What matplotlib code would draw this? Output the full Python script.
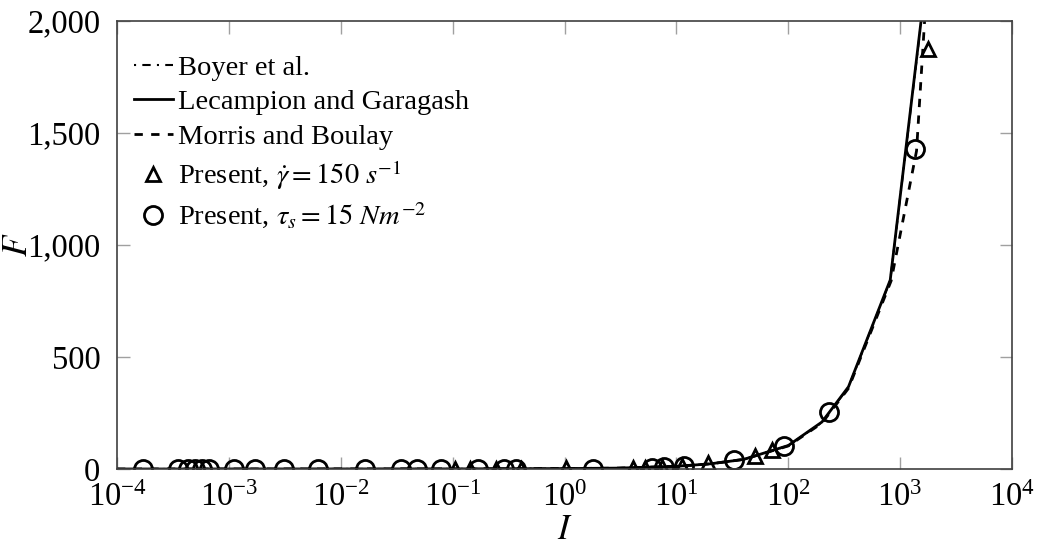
import numpy as np
import matplotlib.pyplot as plt
from matplotlib.ticker import FuncFormatter, LogFormatterMathtext, NullLocator

plt.rcParams['font.family'] = ['Liberation Serif', 'DejaVu Serif']
plt.rcParams['mathtext.fontset'] = 'stix'
plt.rcParams['font.size'] = 21

# model curves: F against I
I_boyer = [1e-4, 1e-1, 1, 3, 10, 20, 40, 100, 200, 345, 815, 2000]
F_boyer = [0, 0.5, 2, 4, 12, 23, 43, 104, 208, 365, 842, 2470]

I_lecampion = [1e-4, 1e-1, 1, 3, 10, 20, 40, 100, 200, 345, 815, 2000]
F_lecampion = [0, 0.5, 2, 4, 12, 23, 43, 105, 210, 367, 844, 2480]

I_morris = [1e-4, 1e-1, 1, 3, 10, 20, 40, 100, 200, 345, 830, 1400, 1750]
F_morris = [0, 0.5, 2, 4, 12, 23, 43, 103, 205, 360, 840, 1420, 2200]

# present simulations
I_shear = [0.105, 0.142, 0.246, 0.41, 1.04, 4.1, 5.2, 7.5, 11.3, 19, 50, 72, 1790]
F_shear = [0.5, 0.6, 0.8, 1, 3, 6, 6, 10, 15, 28, 58, 85, 1874]

I_stress = [1.7e-4, 3.5e-4, 4.3e-4, 5.0e-4, 5.7e-4, 6.6e-4, 1.1e-3, 1.7e-3,
            3.1e-3, 6.2e-3, 0.0163, 0.0345, 0.048, 0.078, 0.167, 0.29, 0.37,
            1.8, 6.0, 7.8, 11.8, 33, 92, 232, 1362]
F_stress = [0, 0, 0, 0, 0, 0, 0, 0, 0, 0, 0, 0, 0, 0.2, 0.4, 0.6, 0.7,
            2, 6, 8, 13, 38, 103, 256, 1430]

x_ticks = [1e-4, 1e-3, 1e-2, 1e-1, 1e0, 1e1, 1e2, 1e3, 1e4]
y_ticks = [0, 500, 1000, 1500, 2000]

fig = plt.figure(figsize=(10.41, 5.49), dpi=100)
ax = fig.add_axes([0.1124, 0.1457, 0.8598, 0.816])

ax.plot(I_boyer, F_boyer, color='black', lw=1.5, ls=(0, (1, 3, 4, 3)),
        label='Boyer et al.')
ax.plot(I_lecampion, F_lecampion, color='black', lw=2,
        label='Lecampion and Garagash')
ax.plot(I_morris, F_morris, color='black', lw=2, ls=(0, (3, 3)),
        label='Morris and Boulay')
ax.plot(I_shear, F_shear, ls='none', marker='^', ms=10, mfc='none',
        mec='black', mew=2, label=r'Present, $\dot{\gamma} = 150\ s^{-1}$')
ax.plot(I_stress, F_stress, ls='none', marker='o', ms=13, mfc='none',
        mec='black', mew=2, label=r'Present, $\tau_s = 15\ Nm^{-2}$')

ax.set_xscale('log')
ax.set_xlim(1e-4, 1e4)
ax.set_ylim(0, 2000)
ax.set_xticks(x_ticks)
ax.xaxis.set_major_formatter(LogFormatterMathtext())
ax.xaxis.set_minor_locator(NullLocator())
ax.set_yticks(y_ticks)
ax.yaxis.set_major_formatter(FuncFormatter(lambda v, p: '{:,.0f}'.format(v)))

for s in ax.spines.values():
    s.set_color('#404040')
    s.set_linewidth(1.2)
ax.tick_params(which='both', direction='in', top=True, right=True,
               length=9, width=1, color='#a0a0a0', labelsize=23.5)
ax.tick_params(axis='y', pad=12)
ax.tick_params(axis='x', pad=10)

ax.set_xlabel(r'$I$', fontsize=25)
ax.set_ylabel(r'$F$', fontsize=25)
ax.xaxis.set_label_coords(0.5, -0.1)
ax.yaxis.set_label_coords(-0.092, 0.5)

ax.legend(loc='upper left', bbox_to_anchor=(-0.007, 0.975), frameon=False,
          handlelength=1.4, handletextpad=0.15, labelspacing=0.3,
          borderaxespad=0.4, fontsize=20.5)

fig.savefig('out.png', dpi=100)
